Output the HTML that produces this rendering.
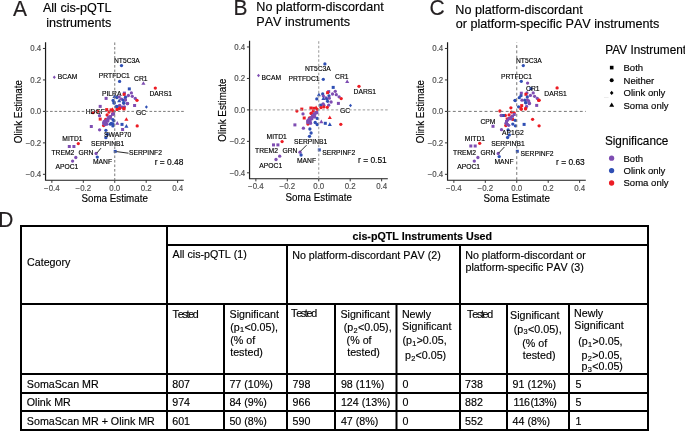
<!DOCTYPE html><html><head><meta charset="utf-8"><style>html,body{margin:0;padding:0;background:#fff;}svg{display:block;will-change:transform;font-kerning:none;font-family:"Liberation Sans",sans-serif;} text{stroke:currentColor;stroke-width:0.15px;}</style></head><body>
<svg width="685" height="431" viewBox="0 0 685 431">
<rect width="685" height="431" fill="#fff"/>
<text transform="translate(12.90,15.60) scale(1,1.04)" font-size="21" fill="#231f20" color="#231f20" text-anchor="start" >A</text>
<text transform="translate(233.40,14.90) scale(1,1.04)" font-size="21" fill="#231f20" color="#231f20" text-anchor="start" >B</text>
<text transform="translate(429.50,15.30) scale(1,1.04)" font-size="21" fill="#231f20" color="#231f20" text-anchor="start" >C</text>
<text transform="translate(-1.80,226.70) scale(1,1.04)" font-size="21" fill="#231f20" color="#231f20" text-anchor="start" >D</text>
<text transform="translate(42.90,12.20) scale(1,1.04)" font-size="12.6" fill="#000" color="#000" text-anchor="start" >All cis-pQTL</text>
<text transform="translate(46.30,27.10) scale(1,1.04)" font-size="12.6" fill="#000" color="#000" text-anchor="start" >instruments</text>
<text transform="translate(256.30,11.20) scale(1,1.04)" font-size="12.6" fill="#000" color="#000" text-anchor="start" >No platform-discordant</text>
<text transform="translate(256.30,26.20) scale(1,1.04)" font-size="12.6" fill="#000" color="#000" text-anchor="start" >PAV instruments</text>
<text transform="translate(455.30,13.60) scale(1,1.04)" font-size="12.6" fill="#000" color="#000" text-anchor="start" >No platform-discordant</text>
<text transform="translate(455.70,28.30) scale(1,1.04)" font-size="12.6" fill="#000" color="#000" text-anchor="start" >or platform-specific PAV instruments</text>
<polygon points="54.30,75.55 55.79,77.30 54.30,79.05 52.81,77.30" fill="#7E4DB2"/>
<circle cx="121.50" cy="65.60" r="1.65" fill="#2F4FB4"/>
<circle cx="119.60" cy="81.40" r="1.65" fill="#2F4FB4"/>
<polygon points="143.40,81.14 145.45,84.74 141.35,84.74" fill="#7E4DB2"/>
<circle cx="155.30" cy="88.10" r="1.65" fill="#EC1C24"/>
<circle cx="78.30" cy="143.60" r="1.65" fill="#EC1C24"/>
<rect x="67.80" y="145.00" width="3.00" height="3.00" fill="#7E4DB2"/>
<rect x="72.40" y="145.00" width="3.00" height="3.00" fill="#7E4DB2"/>
<circle cx="75.80" cy="157.50" r="1.65" fill="#7E4DB2"/>
<circle cx="72.60" cy="161.10" r="1.65" fill="#7E4DB2"/>
<circle cx="96.10" cy="153.50" r="1.65" fill="#7E4DB2"/>
<circle cx="97.30" cy="157.10" r="1.65" fill="#2F4FB4"/>
<rect x="113.70" y="149.90" width="3.00" height="3.00" fill="#2F4FB4"/>
<circle cx="105.90" cy="137.70" r="1.65" fill="#2F4FB4"/>
<circle cx="107.30" cy="134.30" r="1.65" fill="#2F4FB4"/>
<rect x="127.80" y="87.40" width="3.00" height="3.00" fill="#2F4FB4"/>
<rect x="122.90" y="91.60" width="3.00" height="3.00" fill="#7E4DB2"/>
<rect x="122.60" y="92.90" width="3.00" height="3.00" fill="#EC1C24"/>
<circle cx="131.40" cy="92.90" r="1.65" fill="#7E4DB2"/>
<circle cx="128.40" cy="95.50" r="1.65" fill="#7E4DB2"/>
<circle cx="132.30" cy="96.30" r="1.65" fill="#7E4DB2"/>
<circle cx="135.30" cy="98.40" r="1.65" fill="#7E4DB2"/>
<circle cx="137.00" cy="100.30" r="1.65" fill="#EC1C24"/>
<circle cx="125.30" cy="99.50" r="1.65" fill="#7E4DB2"/>
<circle cx="127.40" cy="103.70" r="1.65" fill="#7E4DB2"/>
<rect x="133.10" y="104.00" width="3.00" height="3.00" fill="#7E4DB2"/>
<polygon points="146.40,105.35 147.89,107.10 146.40,108.85 144.91,107.10" fill="#2F4FB4"/>
<rect x="104.60" y="96.90" width="3.00" height="3.00" fill="#7E4DB2"/>
<polygon points="114.50,94.44 116.55,98.04 112.45,98.04" fill="#2F4FB4"/>
<circle cx="116.80" cy="97.50" r="1.65" fill="#2F4FB4"/>
<circle cx="119.20" cy="96.90" r="1.65" fill="#7E4DB2"/>
<circle cx="125.50" cy="97.20" r="1.65" fill="#2F4FB4"/>
<circle cx="113.10" cy="100.40" r="1.65" fill="#2F4FB4"/>
<circle cx="114.20" cy="103.00" r="1.65" fill="#2F4FB4"/>
<polygon points="119.20,98.54 121.25,102.14 117.15,102.14" fill="#2F4FB4"/>
<circle cx="121.50" cy="99.20" r="1.65" fill="#7E4DB2"/>
<circle cx="123.20" cy="100.10" r="1.65" fill="#2F4FB4"/>
<circle cx="125.50" cy="100.10" r="1.65" fill="#7E4DB2"/>
<circle cx="123.80" cy="103.00" r="1.65" fill="#2F4FB4"/>
<circle cx="127.30" cy="103.60" r="1.65" fill="#7E4DB2"/>
<rect x="98.70" y="104.90" width="3.00" height="3.00" fill="#7E4DB2"/>
<rect x="112.50" y="101.20" width="3.00" height="3.00" fill="#2F4FB4"/>
<circle cx="123.70" cy="103.00" r="1.65" fill="#2F4FB4"/>
<circle cx="127.60" cy="103.40" r="1.65" fill="#7E4DB2"/>
<circle cx="116.50" cy="106.60" r="1.65" fill="#2F4FB4"/>
<circle cx="119.40" cy="106.00" r="1.65" fill="#7E4DB2"/>
<circle cx="116.80" cy="106.50" r="1.65" fill="#2F4FB4"/>
<circle cx="119.70" cy="105.30" r="1.65" fill="#7E4DB2"/>
<circle cx="124.40" cy="106.80" r="1.65" fill="#7E4DB2"/>
<circle cx="122.30" cy="107.20" r="1.65" fill="#7E4DB2"/>
<circle cx="119.70" cy="108.20" r="1.65" fill="#EC1C24"/>
<circle cx="123.80" cy="108.50" r="1.65" fill="#EC1C24"/>
<rect x="115.50" y="108.00" width="3.00" height="3.00" fill="#EC1C24"/>
<circle cx="119.40" cy="108.60" r="1.65" fill="#EC1C24"/>
<rect x="122.50" y="107.40" width="3.00" height="3.00" fill="#EC1C24"/>
<circle cx="97.60" cy="111.30" r="1.65" fill="#EC1C24"/>
<circle cx="93.00" cy="112.70" r="1.65" fill="#EC1C24"/>
<circle cx="99.50" cy="115.70" r="1.65" fill="#7E4DB2"/>
<rect x="98.70" y="117.60" width="3.00" height="3.00" fill="#EC1C24"/>
<rect x="105.20" y="108.10" width="3.00" height="3.00" fill="#EC1C24"/>
<circle cx="109.00" cy="112.00" r="1.65" fill="#EC1C24"/>
<rect x="109.60" y="108.40" width="3.00" height="3.00" fill="#EC1C24"/>
<polygon points="112.50,107.14 114.55,110.74 110.45,110.74" fill="#EC1C24"/>
<rect x="111.40" y="109.70" width="3.00" height="3.00" fill="#EC1C24"/>
<circle cx="107.10" cy="115.00" r="1.65" fill="#EC1C24"/>
<circle cx="105.70" cy="119.40" r="1.65" fill="#EC1C24"/>
<circle cx="103.60" cy="125.60" r="1.65" fill="#EC1C24"/>
<rect x="112.10" y="112.30" width="3.00" height="3.00" fill="#7E4DB2"/>
<rect x="111.00" y="112.80" width="3.00" height="3.00" fill="#7E4DB2"/>
<rect x="109.10" y="114.90" width="3.00" height="3.00" fill="#7E4DB2"/>
<rect x="107.20" y="115.80" width="3.00" height="3.00" fill="#7E4DB2"/>
<circle cx="110.10" cy="118.20" r="1.65" fill="#7E4DB2"/>
<rect x="106.30" y="117.60" width="3.00" height="3.00" fill="#7E4DB2"/>
<circle cx="106.00" cy="120.30" r="1.65" fill="#7E4DB2"/>
<circle cx="104.10" cy="121.50" r="1.65" fill="#7E4DB2"/>
<rect x="102.10" y="121.80" width="3.00" height="3.00" fill="#7E4DB2"/>
<rect x="104.50" y="120.90" width="3.00" height="3.00" fill="#7E4DB2"/>
<circle cx="106.90" cy="124.20" r="1.65" fill="#7E4DB2"/>
<circle cx="105.00" cy="124.70" r="1.65" fill="#7E4DB2"/>
<circle cx="107.90" cy="121.00" r="1.65" fill="#7E4DB2"/>
<circle cx="105.00" cy="122.00" r="1.65" fill="#7E4DB2"/>
<circle cx="112.90" cy="119.60" r="1.65" fill="#2F4FB4"/>
<circle cx="113.80" cy="120.80" r="1.65" fill="#2F4FB4"/>
<circle cx="111.30" cy="123.30" r="1.65" fill="#2F4FB4"/>
<circle cx="112.90" cy="124.00" r="1.65" fill="#2F4FB4"/>
<circle cx="112.90" cy="125.90" r="1.65" fill="#2F4FB4"/>
<circle cx="110.40" cy="124.20" r="1.65" fill="#2F4FB4"/>
<polygon points="117.30,121.04 119.35,124.64 115.25,124.64" fill="#7E4DB2"/>
<rect x="120.50" y="122.90" width="3.00" height="3.00" fill="#2F4FB4"/>
<polygon points="126.40,117.14 128.45,120.74 124.35,120.74" fill="#EC1C24"/>
<polygon points="126.40,124.04 128.45,127.64 124.35,127.64" fill="#2F4FB4"/>
<circle cx="137.20" cy="125.90" r="1.65" fill="#EC1C24"/>
<rect x="121.10" y="128.00" width="3.00" height="3.00" fill="#7E4DB2"/>
<rect x="89.80" y="125.00" width="3.00" height="3.00" fill="#7E4DB2"/>
<circle cx="99.60" cy="129.80" r="1.65" fill="#7E4DB2"/>
<circle cx="105.90" cy="130.30" r="1.65" fill="#2F4FB4"/>
<polygon points="258.50,73.85 259.99,75.60 258.50,77.35 257.01,75.60" fill="#7E4DB2"/>
<circle cx="324.90" cy="63.90" r="1.65" fill="#2F4FB4"/>
<circle cx="323.30" cy="79.30" r="1.65" fill="#2F4FB4"/>
<polygon points="347.20,79.44 349.25,83.04 345.15,83.04" fill="#7E4DB2"/>
<circle cx="359.00" cy="86.30" r="1.65" fill="#EC1C24"/>
<circle cx="282.10" cy="141.60" r="1.65" fill="#EC1C24"/>
<rect x="272.00" y="143.40" width="3.00" height="3.00" fill="#7E4DB2"/>
<rect x="276.40" y="143.40" width="3.00" height="3.00" fill="#7E4DB2"/>
<circle cx="279.70" cy="156.20" r="1.65" fill="#7E4DB2"/>
<circle cx="276.00" cy="159.50" r="1.65" fill="#7E4DB2"/>
<circle cx="300.00" cy="152.20" r="1.65" fill="#7E4DB2"/>
<circle cx="301.10" cy="155.00" r="1.65" fill="#2F4FB4"/>
<rect x="317.80" y="148.40" width="3.00" height="3.00" fill="#2F4FB4"/>
<rect x="331.70" y="85.90" width="3.00" height="3.00" fill="#2F4FB4"/>
<circle cx="335.30" cy="91.30" r="1.65" fill="#7E4DB2"/>
<circle cx="332.50" cy="94.00" r="1.65" fill="#7E4DB2"/>
<circle cx="336.30" cy="94.70" r="1.65" fill="#7E4DB2"/>
<circle cx="339.10" cy="96.80" r="1.65" fill="#7E4DB2"/>
<circle cx="341.20" cy="98.60" r="1.65" fill="#EC1C24"/>
<rect x="336.90" y="101.90" width="3.00" height="3.00" fill="#7E4DB2"/>
<rect x="327.20" y="90.10" width="3.00" height="3.00" fill="#7E4DB2"/>
<rect x="326.10" y="91.20" width="3.00" height="3.00" fill="#EC1C24"/>
<polygon points="318.90,92.54 320.95,96.14 316.85,96.14" fill="#2F4FB4"/>
<circle cx="322.70" cy="94.00" r="1.65" fill="#2F4FB4"/>
<circle cx="323.40" cy="96.10" r="1.65" fill="#7E4DB2"/>
<circle cx="329.00" cy="95.80" r="1.65" fill="#2F4FB4"/>
<circle cx="316.80" cy="98.90" r="1.65" fill="#2F4FB4"/>
<polygon points="323.40,96.44 325.45,100.04 321.35,100.04" fill="#2F4FB4"/>
<circle cx="325.90" cy="97.90" r="1.65" fill="#7E4DB2"/>
<circle cx="326.90" cy="98.90" r="1.65" fill="#2F4FB4"/>
<circle cx="329.30" cy="98.20" r="1.65" fill="#7E4DB2"/>
<circle cx="327.60" cy="101.30" r="1.65" fill="#2F4FB4"/>
<circle cx="331.10" cy="102.00" r="1.65" fill="#7E4DB2"/>
<circle cx="328.70" cy="105.20" r="1.65" fill="#7E4DB2"/>
<rect x="319.20" y="103.70" width="3.00" height="3.00" fill="#2F4FB4"/>
<circle cx="323.10" cy="103.80" r="1.65" fill="#7E4DB2"/>
<circle cx="323.80" cy="105.20" r="1.65" fill="#7E4DB2"/>
<circle cx="321.00" cy="107.60" r="1.65" fill="#EC1C24"/>
<circle cx="323.80" cy="106.90" r="1.65" fill="#EC1C24"/>
<circle cx="327.30" cy="107.30" r="1.65" fill="#EC1C24"/>
<rect x="309.40" y="106.50" width="3.00" height="3.00" fill="#EC1C24"/>
<rect x="312.20" y="106.80" width="3.00" height="3.00" fill="#EC1C24"/>
<polygon points="316.10,105.44 318.15,109.04 314.05,109.04" fill="#EC1C24"/>
<circle cx="317.20" cy="109.30" r="1.65" fill="#EC1C24"/>
<circle cx="313.30" cy="111.10" r="1.65" fill="#EC1C24"/>
<circle cx="311.30" cy="113.10" r="1.65" fill="#EC1C24"/>
<circle cx="316.10" cy="112.80" r="1.65" fill="#7E4DB2"/>
<circle cx="296.90" cy="111.10" r="1.65" fill="#EC1C24"/>
<rect x="300.30" y="107.60" width="3.00" height="3.00" fill="#EC1C24"/>
<circle cx="303.00" cy="113.90" r="1.65" fill="#7E4DB2"/>
<rect x="302.70" y="116.50" width="3.00" height="3.00" fill="#EC1C24"/>
<circle cx="307.90" cy="124.10" r="1.65" fill="#EC1C24"/>
<circle cx="309.50" cy="118.00" r="1.65" fill="#EC1C24"/>
<circle cx="311.10" cy="113.50" r="1.65" fill="#EC1C24"/>
<rect x="312.90" y="112.40" width="3.00" height="3.00" fill="#7E4DB2"/>
<rect x="315.30" y="111.20" width="3.00" height="3.00" fill="#7E4DB2"/>
<rect x="312.10" y="115.30" width="3.00" height="3.00" fill="#7E4DB2"/>
<circle cx="310.30" cy="119.20" r="1.65" fill="#7E4DB2"/>
<circle cx="308.30" cy="121.20" r="1.65" fill="#7E4DB2"/>
<rect x="308.80" y="121.40" width="3.00" height="3.00" fill="#7E4DB2"/>
<circle cx="311.90" cy="118.80" r="1.65" fill="#7E4DB2"/>
<circle cx="316.40" cy="112.30" r="1.65" fill="#7E4DB2"/>
<rect x="313.20" y="112.80" width="3.00" height="3.00" fill="#7E4DB2"/>
<circle cx="312.50" cy="115.70" r="1.65" fill="#7E4DB2"/>
<circle cx="314.70" cy="116.80" r="1.65" fill="#7E4DB2"/>
<rect x="309.90" y="116.10" width="3.00" height="3.00" fill="#7E4DB2"/>
<circle cx="309.10" cy="119.00" r="1.65" fill="#7E4DB2"/>
<circle cx="307.70" cy="120.70" r="1.65" fill="#7E4DB2"/>
<rect x="308.50" y="119.80" width="3.00" height="3.00" fill="#7E4DB2"/>
<circle cx="307.70" cy="122.60" r="1.65" fill="#7E4DB2"/>
<circle cx="310.50" cy="123.20" r="1.65" fill="#7E4DB2"/>
<circle cx="317.20" cy="118.40" r="1.65" fill="#2F4FB4"/>
<circle cx="315.20" cy="122.50" r="1.65" fill="#2F4FB4"/>
<circle cx="317.20" cy="124.50" r="1.65" fill="#2F4FB4"/>
<polygon points="321.30,119.54 323.35,123.14 319.25,123.14" fill="#7E4DB2"/>
<rect x="323.80" y="121.80" width="3.00" height="3.00" fill="#2F4FB4"/>
<polygon points="329.80,122.34 331.85,125.94 327.75,125.94" fill="#2F4FB4"/>
<polygon points="329.80,115.44 331.85,119.04 327.75,119.04" fill="#EC1C24"/>
<circle cx="340.80" cy="124.30" r="1.65" fill="#EC1C24"/>
<rect x="293.40" y="123.40" width="3.00" height="3.00" fill="#7E4DB2"/>
<circle cx="303.40" cy="128.20" r="1.65" fill="#7E4DB2"/>
<circle cx="309.90" cy="129.00" r="1.65" fill="#2F4FB4"/>
<circle cx="311.10" cy="133.00" r="1.65" fill="#2F4FB4"/>
<circle cx="309.50" cy="136.30" r="1.65" fill="#2F4FB4"/>
<polygon points="350.50,103.85 351.99,105.60 350.50,107.35 349.01,105.60" fill="#2F4FB4"/>
<circle cx="523.30" cy="65.60" r="1.65" fill="#2F4FB4"/>
<circle cx="521.30" cy="81.30" r="1.65" fill="#2F4FB4"/>
<circle cx="527.60" cy="83.10" r="1.65" fill="#7E4DB2"/>
<rect x="529.40" y="87.20" width="3.00" height="3.00" fill="#2F4FB4"/>
<circle cx="557.10" cy="87.90" r="1.65" fill="#EC1C24"/>
<circle cx="479.70" cy="143.30" r="1.65" fill="#EC1C24"/>
<rect x="469.30" y="144.50" width="3.00" height="3.00" fill="#7E4DB2"/>
<rect x="473.70" y="144.50" width="3.00" height="3.00" fill="#7E4DB2"/>
<circle cx="477.90" cy="157.50" r="1.65" fill="#7E4DB2"/>
<circle cx="474.30" cy="161.10" r="1.65" fill="#7E4DB2"/>
<circle cx="498.20" cy="153.50" r="1.65" fill="#7E4DB2"/>
<circle cx="499.20" cy="156.60" r="1.65" fill="#2F4FB4"/>
<rect x="515.80" y="149.80" width="3.00" height="3.00" fill="#2F4FB4"/>
<rect x="519.80" y="91.70" width="3.00" height="3.00" fill="#7E4DB2"/>
<circle cx="526.90" cy="92.90" r="1.65" fill="#7E4DB2"/>
<rect x="524.40" y="92.80" width="3.00" height="3.00" fill="#EC1C24"/>
<circle cx="533.20" cy="92.90" r="1.65" fill="#7E4DB2"/>
<circle cx="530.40" cy="95.40" r="1.65" fill="#7E4DB2"/>
<circle cx="534.60" cy="96.30" r="1.65" fill="#7E4DB2"/>
<circle cx="537.30" cy="98.40" r="1.65" fill="#7E4DB2"/>
<circle cx="539.10" cy="100.20" r="1.65" fill="#EC1C24"/>
<circle cx="521.00" cy="95.70" r="1.65" fill="#2F4FB4"/>
<circle cx="519.30" cy="97.70" r="1.65" fill="#2F4FB4"/>
<circle cx="515.10" cy="100.30" r="1.65" fill="#2F4FB4"/>
<circle cx="527.30" cy="97.00" r="1.65" fill="#2F4FB4"/>
<circle cx="524.80" cy="100.20" r="1.65" fill="#2F4FB4"/>
<circle cx="525.90" cy="102.60" r="1.65" fill="#2F4FB4"/>
<circle cx="522.00" cy="100.20" r="1.65" fill="#7E4DB2"/>
<circle cx="527.30" cy="99.80" r="1.65" fill="#7E4DB2"/>
<circle cx="528.70" cy="100.90" r="1.65" fill="#7E4DB2"/>
<circle cx="529.30" cy="103.70" r="1.65" fill="#7E4DB2"/>
<rect x="535.20" y="103.90" width="3.00" height="3.00" fill="#7E4DB2"/>
<circle cx="510.90" cy="107.80" r="1.65" fill="#EC1C24"/>
<rect x="520.20" y="104.10" width="3.00" height="3.00" fill="#EC1C24"/>
<circle cx="518.60" cy="106.80" r="1.65" fill="#2F4FB4"/>
<circle cx="526.60" cy="106.40" r="1.65" fill="#7E4DB2"/>
<circle cx="521.00" cy="108.50" r="1.65" fill="#EC1C24"/>
<circle cx="525.50" cy="108.90" r="1.65" fill="#EC1C24"/>
<circle cx="525.70" cy="102.80" r="1.65" fill="#2F4FB4"/>
<circle cx="529.40" cy="103.20" r="1.65" fill="#7E4DB2"/>
<circle cx="521.30" cy="109.30" r="1.65" fill="#EC1C24"/>
<circle cx="525.70" cy="108.50" r="1.65" fill="#EC1C24"/>
<circle cx="538.70" cy="100.40" r="1.65" fill="#EC1C24"/>
<circle cx="515.20" cy="100.60" r="1.65" fill="#2F4FB4"/>
<circle cx="499.90" cy="111.00" r="1.65" fill="#EC1C24"/>
<circle cx="511.40" cy="112.10" r="1.65" fill="#EC1C24"/>
<circle cx="514.20" cy="113.00" r="1.65" fill="#EC1C24"/>
<circle cx="505.30" cy="115.50" r="1.65" fill="#EC1C24"/>
<rect x="501.80" y="114.00" width="3.00" height="3.00" fill="#2F4FB4"/>
<circle cx="501.10" cy="115.50" r="1.65" fill="#7E4DB2"/>
<circle cx="509.10" cy="114.90" r="1.65" fill="#EC1C24"/>
<circle cx="507.20" cy="118.80" r="1.65" fill="#EC1C24"/>
<circle cx="512.80" cy="119.40" r="1.65" fill="#EC1C24"/>
<circle cx="505.80" cy="125.50" r="1.65" fill="#EC1C24"/>
<rect x="512.70" y="113.00" width="3.00" height="3.00" fill="#7E4DB2"/>
<rect x="511.00" y="114.70" width="3.00" height="3.00" fill="#7E4DB2"/>
<circle cx="510.80" cy="117.50" r="1.65" fill="#7E4DB2"/>
<rect x="507.80" y="117.00" width="3.00" height="3.00" fill="#7E4DB2"/>
<circle cx="507.80" cy="120.00" r="1.65" fill="#7E4DB2"/>
<rect x="505.00" y="120.00" width="3.00" height="3.00" fill="#7E4DB2"/>
<circle cx="506.00" cy="123.20" r="1.65" fill="#7E4DB2"/>
<rect x="505.80" y="123.00" width="3.00" height="3.00" fill="#7E4DB2"/>
<circle cx="508.70" cy="125.30" r="1.65" fill="#7E4DB2"/>
<circle cx="511.00" cy="118.80" r="1.65" fill="#7E4DB2"/>
<circle cx="515.20" cy="120.30" r="1.65" fill="#2F4FB4"/>
<circle cx="512.80" cy="124.10" r="1.65" fill="#2F4FB4"/>
<circle cx="515.40" cy="125.80" r="1.65" fill="#2F4FB4"/>
<rect x="522.60" y="122.90" width="3.00" height="3.00" fill="#2F4FB4"/>
<circle cx="532.60" cy="119.30" r="1.65" fill="#EC1C24"/>
<circle cx="539.10" cy="125.80" r="1.65" fill="#EC1C24"/>
<rect x="491.50" y="124.80" width="3.00" height="3.00" fill="#7E4DB2"/>
<circle cx="501.50" cy="129.70" r="1.65" fill="#7E4DB2"/>
<circle cx="508.10" cy="129.90" r="1.65" fill="#2F4FB4"/>
<circle cx="509.30" cy="134.90" r="1.65" fill="#2F4FB4"/>
<circle cx="507.60" cy="137.50" r="1.65" fill="#2F4FB4"/>
<path d="M45.55,42.30 V180.25 H183.80" fill="none" stroke="#1a1a1a" stroke-width="1.2"/>
<line x1="42.95" y1="48.48" x2="45.55" y2="48.48" stroke="#333" stroke-width="1"/>
<text transform="translate(41.25,51.33) scale(1,1.04)" font-size="7.9" fill="#4d4d4d" color="#4d4d4d" text-anchor="end" >0.4</text>
<line x1="42.95" y1="79.94" x2="45.55" y2="79.94" stroke="#333" stroke-width="1"/>
<text transform="translate(41.25,82.79) scale(1,1.04)" font-size="7.9" fill="#4d4d4d" color="#4d4d4d" text-anchor="end" >0.2</text>
<line x1="42.95" y1="111.40" x2="45.55" y2="111.40" stroke="#333" stroke-width="1"/>
<text transform="translate(41.25,114.25) scale(1,1.04)" font-size="7.9" fill="#4d4d4d" color="#4d4d4d" text-anchor="end" >0.0</text>
<line x1="42.95" y1="142.86" x2="45.55" y2="142.86" stroke="#333" stroke-width="1"/>
<text transform="translate(41.25,145.71) scale(1,1.04)" font-size="7.9" fill="#4d4d4d" color="#4d4d4d" text-anchor="end" >−0.2</text>
<line x1="42.95" y1="174.32" x2="45.55" y2="174.32" stroke="#333" stroke-width="1"/>
<text transform="translate(41.25,177.17) scale(1,1.04)" font-size="7.9" fill="#4d4d4d" color="#4d4d4d" text-anchor="end" >−0.4</text>
<line x1="51.87" y1="180.25" x2="51.87" y2="182.85" stroke="#333" stroke-width="1"/>
<text transform="translate(51.87,190.70) scale(1,1.04)" font-size="7.9" fill="#4d4d4d" color="#4d4d4d" text-anchor="middle" >−0.4</text>
<line x1="83.31" y1="180.25" x2="83.31" y2="182.85" stroke="#333" stroke-width="1"/>
<text transform="translate(83.31,190.70) scale(1,1.04)" font-size="7.9" fill="#4d4d4d" color="#4d4d4d" text-anchor="middle" >−0.2</text>
<line x1="114.75" y1="180.25" x2="114.75" y2="182.85" stroke="#333" stroke-width="1"/>
<text transform="translate(114.75,190.70) scale(1,1.04)" font-size="7.9" fill="#4d4d4d" color="#4d4d4d" text-anchor="middle" >0.0</text>
<line x1="146.19" y1="180.25" x2="146.19" y2="182.85" stroke="#333" stroke-width="1"/>
<text transform="translate(146.19,190.70) scale(1,1.04)" font-size="7.9" fill="#4d4d4d" color="#4d4d4d" text-anchor="middle" >0.2</text>
<line x1="177.63" y1="180.25" x2="177.63" y2="182.85" stroke="#333" stroke-width="1"/>
<text transform="translate(177.63,190.70) scale(1,1.04)" font-size="7.9" fill="#4d4d4d" color="#4d4d4d" text-anchor="middle" >0.4</text>
<text transform="translate(114.65,202.00) scale(1,1.04)" font-size="9.8" fill="#000" color="#000" text-anchor="middle" >Soma Estimate</text>
<text transform="translate(21.50,111.60) rotate(-90) scale(1,1.04)" font-size="9.8" text-anchor="middle" fill="#000">Olink Estimate</text>
<path d="M249.55,40.80 V178.75 H387.80" fill="none" stroke="#1a1a1a" stroke-width="1.2"/>
<line x1="246.95" y1="46.98" x2="249.55" y2="46.98" stroke="#333" stroke-width="1"/>
<text transform="translate(245.25,49.83) scale(1,1.04)" font-size="7.9" fill="#4d4d4d" color="#4d4d4d" text-anchor="end" >0.4</text>
<line x1="246.95" y1="78.44" x2="249.55" y2="78.44" stroke="#333" stroke-width="1"/>
<text transform="translate(245.25,81.29) scale(1,1.04)" font-size="7.9" fill="#4d4d4d" color="#4d4d4d" text-anchor="end" >0.2</text>
<line x1="246.95" y1="109.90" x2="249.55" y2="109.90" stroke="#333" stroke-width="1"/>
<text transform="translate(245.25,112.75) scale(1,1.04)" font-size="7.9" fill="#4d4d4d" color="#4d4d4d" text-anchor="end" >0.0</text>
<line x1="246.95" y1="141.36" x2="249.55" y2="141.36" stroke="#333" stroke-width="1"/>
<text transform="translate(245.25,144.21) scale(1,1.04)" font-size="7.9" fill="#4d4d4d" color="#4d4d4d" text-anchor="end" >−0.2</text>
<line x1="246.95" y1="172.82" x2="249.55" y2="172.82" stroke="#333" stroke-width="1"/>
<text transform="translate(245.25,175.67) scale(1,1.04)" font-size="7.9" fill="#4d4d4d" color="#4d4d4d" text-anchor="end" >−0.4</text>
<line x1="255.87" y1="178.75" x2="255.87" y2="181.35" stroke="#333" stroke-width="1"/>
<text transform="translate(255.87,189.20) scale(1,1.04)" font-size="7.9" fill="#4d4d4d" color="#4d4d4d" text-anchor="middle" >−0.4</text>
<line x1="287.31" y1="178.75" x2="287.31" y2="181.35" stroke="#333" stroke-width="1"/>
<text transform="translate(287.31,189.20) scale(1,1.04)" font-size="7.9" fill="#4d4d4d" color="#4d4d4d" text-anchor="middle" >−0.2</text>
<line x1="318.75" y1="178.75" x2="318.75" y2="181.35" stroke="#333" stroke-width="1"/>
<text transform="translate(318.75,189.20) scale(1,1.04)" font-size="7.9" fill="#4d4d4d" color="#4d4d4d" text-anchor="middle" >0.0</text>
<line x1="350.19" y1="178.75" x2="350.19" y2="181.35" stroke="#333" stroke-width="1"/>
<text transform="translate(350.19,189.20) scale(1,1.04)" font-size="7.9" fill="#4d4d4d" color="#4d4d4d" text-anchor="middle" >0.2</text>
<line x1="381.63" y1="178.75" x2="381.63" y2="181.35" stroke="#333" stroke-width="1"/>
<text transform="translate(381.63,189.20) scale(1,1.04)" font-size="7.9" fill="#4d4d4d" color="#4d4d4d" text-anchor="middle" >0.4</text>
<text transform="translate(318.65,200.50) scale(1,1.04)" font-size="9.8" fill="#000" color="#000" text-anchor="middle" >Soma Estimate</text>
<text transform="translate(225.50,110.10) rotate(-90) scale(1,1.04)" font-size="9.8" text-anchor="middle" fill="#000">Olink Estimate</text>
<path d="M447.55,42.30 V180.25 H585.80" fill="none" stroke="#1a1a1a" stroke-width="1.2"/>
<line x1="444.95" y1="48.48" x2="447.55" y2="48.48" stroke="#333" stroke-width="1"/>
<text transform="translate(443.25,51.33) scale(1,1.04)" font-size="7.9" fill="#4d4d4d" color="#4d4d4d" text-anchor="end" >0.4</text>
<line x1="444.95" y1="79.94" x2="447.55" y2="79.94" stroke="#333" stroke-width="1"/>
<text transform="translate(443.25,82.79) scale(1,1.04)" font-size="7.9" fill="#4d4d4d" color="#4d4d4d" text-anchor="end" >0.2</text>
<line x1="444.95" y1="111.40" x2="447.55" y2="111.40" stroke="#333" stroke-width="1"/>
<text transform="translate(443.25,114.25) scale(1,1.04)" font-size="7.9" fill="#4d4d4d" color="#4d4d4d" text-anchor="end" >0.0</text>
<line x1="444.95" y1="142.86" x2="447.55" y2="142.86" stroke="#333" stroke-width="1"/>
<text transform="translate(443.25,145.71) scale(1,1.04)" font-size="7.9" fill="#4d4d4d" color="#4d4d4d" text-anchor="end" >−0.2</text>
<line x1="444.95" y1="174.32" x2="447.55" y2="174.32" stroke="#333" stroke-width="1"/>
<text transform="translate(443.25,177.17) scale(1,1.04)" font-size="7.9" fill="#4d4d4d" color="#4d4d4d" text-anchor="end" >−0.4</text>
<line x1="453.87" y1="180.25" x2="453.87" y2="182.85" stroke="#333" stroke-width="1"/>
<text transform="translate(453.87,190.70) scale(1,1.04)" font-size="7.9" fill="#4d4d4d" color="#4d4d4d" text-anchor="middle" >−0.4</text>
<line x1="485.31" y1="180.25" x2="485.31" y2="182.85" stroke="#333" stroke-width="1"/>
<text transform="translate(485.31,190.70) scale(1,1.04)" font-size="7.9" fill="#4d4d4d" color="#4d4d4d" text-anchor="middle" >−0.2</text>
<line x1="516.75" y1="180.25" x2="516.75" y2="182.85" stroke="#333" stroke-width="1"/>
<text transform="translate(516.75,190.70) scale(1,1.04)" font-size="7.9" fill="#4d4d4d" color="#4d4d4d" text-anchor="middle" >0.0</text>
<line x1="548.19" y1="180.25" x2="548.19" y2="182.85" stroke="#333" stroke-width="1"/>
<text transform="translate(548.19,190.70) scale(1,1.04)" font-size="7.9" fill="#4d4d4d" color="#4d4d4d" text-anchor="middle" >0.2</text>
<line x1="579.63" y1="180.25" x2="579.63" y2="182.85" stroke="#333" stroke-width="1"/>
<text transform="translate(579.63,190.70) scale(1,1.04)" font-size="7.9" fill="#4d4d4d" color="#4d4d4d" text-anchor="middle" >0.4</text>
<text transform="translate(516.65,202.00) scale(1,1.04)" font-size="9.8" fill="#000" color="#000" text-anchor="middle" >Soma Estimate</text>
<text transform="translate(423.50,111.60) rotate(-90) scale(1,1.04)" font-size="9.8" text-anchor="middle" fill="#000">Olink Estimate</text>
<text transform="translate(114.00,62.90) scale(1,1.04)" font-size="6.75" fill="#000" color="#000" text-anchor="start" stroke="#000" stroke-width="0.2">NT5C3A</text>
<text transform="translate(98.70,78.10) scale(1,1.04)" font-size="6.75" fill="#000" color="#000" text-anchor="start" stroke="#000" stroke-width="0.2">PRTFDC1</text>
<text transform="translate(134.10,80.60) scale(1,1.04)" font-size="6.75" fill="#000" color="#000" text-anchor="start" stroke="#000" stroke-width="0.2">CR1</text>
<text transform="translate(149.50,95.70) scale(1,1.04)" font-size="6.75" fill="#000" color="#000" text-anchor="start" stroke="#000" stroke-width="0.2">DARS1</text>
<text transform="translate(101.90,95.70) scale(1,1.04)" font-size="6.75" fill="#000" color="#000" text-anchor="start" stroke="#000" stroke-width="0.2">PILRA</text>
<text transform="translate(85.70,114.10) scale(1,1.04)" font-size="6.75" fill="#000" color="#000" text-anchor="start" stroke="#000" stroke-width="0.2">HDGF</text>
<text transform="translate(135.90,114.70) scale(1,1.04)" font-size="6.75" fill="#000" color="#000" text-anchor="start" stroke="#000" stroke-width="0.2">GC</text>
<text transform="translate(104.00,137.20) scale(1,1.04)" font-size="6.75" fill="#000" color="#000" text-anchor="start" stroke="#000" stroke-width="0.2">SWAP70</text>
<text transform="translate(62.30,140.80) scale(1,1.04)" font-size="6.75" fill="#000" color="#000" text-anchor="start" stroke="#000" stroke-width="0.2">MITD1</text>
<text transform="translate(91.00,146.40) scale(1,1.04)" font-size="6.75" fill="#000" color="#000" text-anchor="start" stroke="#000" stroke-width="0.2">SERPINB1</text>
<text transform="translate(51.40,154.60) scale(1,1.04)" font-size="6.75" fill="#000" color="#000" text-anchor="start" stroke="#000" stroke-width="0.2">TREM2</text>
<text transform="translate(78.40,154.60) scale(1,1.04)" font-size="6.75" fill="#000" color="#000" text-anchor="start" stroke="#000" stroke-width="0.2">GRN</text>
<text transform="translate(129.00,155.40) scale(1,1.04)" font-size="6.75" fill="#000" color="#000" text-anchor="start" stroke="#000" stroke-width="0.2">SERPINF2</text>
<text transform="translate(93.00,163.90) scale(1,1.04)" font-size="6.75" fill="#000" color="#000" text-anchor="start" stroke="#000" stroke-width="0.2">MANF</text>
<text transform="translate(55.40,168.70) scale(1,1.04)" font-size="6.75" fill="#000" color="#000" text-anchor="start" stroke="#000" stroke-width="0.2">APOC1</text>
<text transform="translate(57.80,78.90) scale(1,1.04)" font-size="6.75" fill="#000" color="#000" text-anchor="start" stroke="#000" stroke-width="0.2">BCAM</text>
<line x1="101" y1="148.1" x2="96.9" y2="153" stroke="#111" stroke-width="0.9"/>
<line x1="116.5" y1="151.6" x2="128.5" y2="153.2" stroke="#111" stroke-width="0.9"/>
<text transform="translate(154.70,164.60) scale(1,1.04)" font-size="8.4" fill="#000" color="#000" text-anchor="start" >r = 0.48</text>
<text transform="translate(305.00,71.40) scale(1,1.04)" font-size="6.75" fill="#000" color="#000" text-anchor="start" stroke="#000" stroke-width="0.2">NT5C3A</text>
<text transform="translate(288.50,81.00) scale(1,1.04)" font-size="6.75" fill="#000" color="#000" text-anchor="start" stroke="#000" stroke-width="0.2">PRTFDC1</text>
<text transform="translate(335.10,78.50) scale(1,1.04)" font-size="6.75" fill="#000" color="#000" text-anchor="start" stroke="#000" stroke-width="0.2">CR1</text>
<text transform="translate(353.60,94.40) scale(1,1.04)" font-size="6.75" fill="#000" color="#000" text-anchor="start" stroke="#000" stroke-width="0.2">DARS1</text>
<text transform="translate(340.00,113.10) scale(1,1.04)" font-size="6.75" fill="#000" color="#000" text-anchor="start" stroke="#000" stroke-width="0.2">GC</text>
<text transform="translate(266.60,138.70) scale(1,1.04)" font-size="6.75" fill="#000" color="#000" text-anchor="start" stroke="#000" stroke-width="0.2">MITD1</text>
<text transform="translate(294.00,143.60) scale(1,1.04)" font-size="6.75" fill="#000" color="#000" text-anchor="start" stroke="#000" stroke-width="0.2">SERPINB1</text>
<text transform="translate(255.10,152.70) scale(1,1.04)" font-size="6.75" fill="#000" color="#000" text-anchor="start" stroke="#000" stroke-width="0.2">TREM2</text>
<text transform="translate(282.40,152.70) scale(1,1.04)" font-size="6.75" fill="#000" color="#000" text-anchor="start" stroke="#000" stroke-width="0.2">GRN</text>
<text transform="translate(322.20,154.50) scale(1,1.04)" font-size="6.75" fill="#000" color="#000" text-anchor="start" stroke="#000" stroke-width="0.2">SERPINF2</text>
<text transform="translate(297.00,162.70) scale(1,1.04)" font-size="6.75" fill="#000" color="#000" text-anchor="start" stroke="#000" stroke-width="0.2">MANF</text>
<text transform="translate(259.30,167.60) scale(1,1.04)" font-size="6.75" fill="#000" color="#000" text-anchor="start" stroke="#000" stroke-width="0.2">APOC1</text>
<text transform="translate(261.60,80.40) scale(1,1.04)" font-size="6.75" fill="#000" color="#000" text-anchor="start" stroke="#000" stroke-width="0.2">BCAM</text>
<line x1="306.5" y1="145.2" x2="300.3" y2="151.4" stroke="#111" stroke-width="0.9"/>
<text transform="translate(358.10,162.70) scale(1,1.04)" font-size="8.4" fill="#000" color="#000" text-anchor="start" >r = 0.51</text>
<text transform="translate(515.90,63.20) scale(1,1.04)" font-size="6.75" fill="#000" color="#000" text-anchor="start" stroke="#000" stroke-width="0.2">NT5C3A</text>
<text transform="translate(500.90,79.00) scale(1,1.04)" font-size="6.75" fill="#000" color="#000" text-anchor="start" stroke="#000" stroke-width="0.2">PRTFDC1</text>
<text transform="translate(526.10,91.30) scale(1,1.04)" font-size="6.75" fill="#000" color="#000" text-anchor="start" stroke="#000" stroke-width="0.2">CR1</text>
<text transform="translate(544.30,96.10) scale(1,1.04)" font-size="6.75" fill="#000" color="#000" text-anchor="start" stroke="#000" stroke-width="0.2">DARS1</text>
<text transform="translate(480.40,123.80) scale(1,1.04)" font-size="6.75" fill="#000" color="#000" text-anchor="start" stroke="#000" stroke-width="0.2">CPM</text>
<text transform="translate(501.90,134.80) scale(1,1.04)" font-size="6.75" fill="#000" color="#000" text-anchor="start" stroke="#000" stroke-width="0.2">AP1G2</text>
<text transform="translate(464.80,141.00) scale(1,1.04)" font-size="6.75" fill="#000" color="#000" text-anchor="start" stroke="#000" stroke-width="0.2">MITD1</text>
<text transform="translate(491.30,145.90) scale(1,1.04)" font-size="6.75" fill="#000" color="#000" text-anchor="start" stroke="#000" stroke-width="0.2">SERPINB1</text>
<text transform="translate(453.10,155.10) scale(1,1.04)" font-size="6.75" fill="#000" color="#000" text-anchor="start" stroke="#000" stroke-width="0.2">TREM2</text>
<text transform="translate(480.40,155.10) scale(1,1.04)" font-size="6.75" fill="#000" color="#000" text-anchor="start" stroke="#000" stroke-width="0.2">GRN</text>
<text transform="translate(520.60,155.90) scale(1,1.04)" font-size="6.75" fill="#000" color="#000" text-anchor="start" stroke="#000" stroke-width="0.2">SERPINF2</text>
<text transform="translate(494.50,164.40) scale(1,1.04)" font-size="6.75" fill="#000" color="#000" text-anchor="start" stroke="#000" stroke-width="0.2">MANF</text>
<text transform="translate(457.20,168.60) scale(1,1.04)" font-size="6.75" fill="#000" color="#000" text-anchor="start" stroke="#000" stroke-width="0.2">APOC1</text>
<line x1="504.4" y1="147" x2="498.7" y2="153" stroke="#111" stroke-width="0.9"/>
<text transform="translate(556.10,164.80) scale(1,1.04)" font-size="8.4" fill="#000" color="#000" text-anchor="start" >r = 0.63</text>
<line x1="45.55" y1="111.40" x2="183.80" y2="111.40" stroke="#7a7a7a" stroke-width="1.0" stroke-dasharray="2.6 1.92" stroke-dashoffset="0.0"/>
<line x1="114.75" y1="180.25" x2="114.75" y2="42.30" stroke="#7a7a7a" stroke-width="1.0" stroke-dasharray="2.6 1.92" stroke-dashoffset="0.4"/>
<line x1="249.55" y1="109.90" x2="387.80" y2="109.90" stroke="#979797" stroke-width="1.0" stroke-dasharray="2.5 2.0" stroke-dashoffset="-0.6"/>
<line x1="318.75" y1="178.75" x2="318.75" y2="40.80" stroke="#979797" stroke-width="1.0" stroke-dasharray="2.5 2.0" stroke-dashoffset="0.0"/>
<line x1="447.55" y1="111.40" x2="585.80" y2="111.40" stroke="#767676" stroke-width="1.0" stroke-dasharray="2.9 2.39" stroke-dashoffset="0.0"/>
<line x1="516.75" y1="180.25" x2="516.75" y2="42.30" stroke="#767676" stroke-width="1.0" stroke-dasharray="2.9 2.39" stroke-dashoffset="0.0"/>
<text transform="translate(605.30,54.30) scale(1,1.04)" font-size="11.8" fill="#000" color="#000" text-anchor="start" style="font-kerning:normal">PAV Instrument</text>
<rect x="609.90" y="65.80" width="3.60" height="3.60" fill="#000"/>
<text transform="translate(623.50,70.90) scale(1,1.04)" font-size="9.55" fill="#000" color="#000" text-anchor="start" >Both</text>
<circle cx="611.70" cy="80.20" r="1.98" fill="#000"/>
<text transform="translate(623.50,83.60) scale(1,1.04)" font-size="9.55" fill="#000" color="#000" text-anchor="start" >Neither</text>
<polygon points="611.70,90.80 613.49,92.90 611.70,95.00 609.92,92.90" fill="#000"/>
<text transform="translate(623.50,96.00) scale(1,1.04)" font-size="9.55" fill="#000" color="#000" text-anchor="start" >Olink only</text>
<polygon points="611.70,102.41 614.16,106.73 609.24,106.73" fill="#000"/>
<text transform="translate(623.50,108.60) scale(1,1.04)" font-size="9.55" fill="#000" color="#000" text-anchor="start" >Soma only</text>
<rect x="604" y="97" width="4.6" height="0.8" fill="#e8e8e8"/>
<text transform="translate(604.90,144.80) scale(1,1.04)" font-size="11.8" fill="#000" color="#000" text-anchor="start" >Significance</text>
<circle cx="611.60" cy="158.20" r="2.64" fill="#7E4DB2"/>
<text transform="translate(623.50,161.60) scale(1,1.04)" font-size="9.55" fill="#000" color="#000" text-anchor="start" >Both</text>
<circle cx="611.60" cy="170.60" r="2.64" fill="#2F4FB4"/>
<text transform="translate(623.50,173.80) scale(1,1.04)" font-size="9.55" fill="#000" color="#000" text-anchor="start" >Olink only</text>
<circle cx="611.60" cy="183.00" r="2.64" fill="#EC1C24"/>
<text transform="translate(623.50,186.40) scale(1,1.04)" font-size="9.55" fill="#000" color="#000" text-anchor="start" >Soma only</text>
<rect x="20" y="225" width="629" height="2" fill="#000"/>
<rect x="166" y="244" width="483" height="2" fill="#000"/>
<rect x="20" y="303" width="629" height="2" fill="#000"/>
<rect x="20" y="373" width="629" height="2" fill="#000"/>
<rect x="20" y="392" width="629" height="2" fill="#000"/>
<rect x="20" y="410" width="629" height="2" fill="#000"/>
<rect x="20" y="429" width="629" height="2" fill="#000"/>
<rect x="20" y="225" width="2" height="206" fill="#000"/>
<rect x="647" y="225" width="2" height="206" fill="#000"/>
<rect x="166" y="225" width="2" height="206" fill="#000"/>
<rect x="286" y="244" width="2" height="187" fill="#000"/>
<rect x="459" y="244" width="2" height="187" fill="#000"/>
<rect x="223" y="303" width="2" height="128" fill="#000"/>
<rect x="334" y="303" width="2" height="128" fill="#000"/>
<rect x="395.5" y="303" width="2" height="128" fill="#000"/>
<rect x="506" y="303" width="2" height="128" fill="#000"/>
<rect x="568" y="303" width="2" height="128" fill="#000"/>
<g transform="translate(0,0.7)">
<text transform="translate(27.00,265.30) scale(1,1.04)" font-size="10.7" fill="#000" color="#000" text-anchor="start" >Category</text>
<text transform="translate(352.50,239.50) scale(1,1.04)" font-size="10.7" fill="#000" color="#000" text-anchor="start" font-weight="bold">cis-pQTL Instruments Used</text>
<text transform="translate(172.60,257.70) scale(1,1.04)" font-size="10.7" fill="#000" color="#000" text-anchor="start" >All cis-pQTL (1)</text>
<text transform="translate(292.20,257.80) scale(1,1.04)" font-size="10.7" fill="#000" color="#000" text-anchor="start" >No platform-discordant PAV (2)</text>
<text transform="translate(465.20,257.80) scale(1,1.04)" font-size="10.7" fill="#000" color="#000" text-anchor="start" >No platform-discordant or</text>
<text transform="translate(465.50,269.80) scale(1,1.04)" font-size="10.7" fill="#000" color="#000" text-anchor="start" >platform-specific PAV (3)</text>
<text transform="translate(172.60,317.40) scale(1,1.04)" font-size="10.7" fill="#000" color="#000" text-anchor="start" letter-spacing="-1.3">Tested</text>
<text transform="translate(290.90,316.60) scale(1,1.04)" font-size="10.7" fill="#000" color="#000" text-anchor="start" letter-spacing="-1.3">Tested</text>
<text transform="translate(467.00,317.00) scale(1,1.04)" font-size="10.7" fill="#000" color="#000" text-anchor="start" letter-spacing="-1.3">Tested</text>
<text transform="translate(229.60,317.30) scale(1,1.04)" font-size="10.7" fill="#000" color="#000" text-anchor="start" >Significant</text>
<text transform="translate(230.2,329.8) scale(1,1.04)" font-size="10.7">(p<tspan font-size="7.4" dx="0.3" dy="1.7">1</tspan><tspan dx="0.3" dy="-1.7">&lt;0.05),</tspan></text>
<text transform="translate(230.20,343.20) scale(1,1.04)" font-size="10.7" fill="#000" color="#000" text-anchor="start" >(% of</text>
<text transform="translate(230.20,355.10) scale(1,1.04)" font-size="10.7" fill="#000" color="#000" text-anchor="start" >tested)</text>
<text transform="translate(340.40,317.20) scale(1,1.04)" font-size="10.7" fill="#000" color="#000" text-anchor="start" >Significant</text>
<text transform="translate(343.8,330.3) scale(1,1.04)" font-size="10.7">(p<tspan font-size="7.4" dx="0.3" dy="1.7">2</tspan><tspan dx="0.3" dy="-1.7">&lt;0.05),</tspan></text>
<text transform="translate(346.60,342.90) scale(1,1.04)" font-size="10.7" fill="#000" color="#000" text-anchor="start" >(% of</text>
<text transform="translate(347.20,354.80) scale(1,1.04)" font-size="10.7" fill="#000" color="#000" text-anchor="start" >tested)</text>
<text transform="translate(401.90,316.80) scale(1,1.04)" font-size="10.7" fill="#000" color="#000" text-anchor="start" >Newly</text>
<text transform="translate(402.10,329.30) scale(1,1.04)" font-size="10.7" fill="#000" color="#000" text-anchor="start" >Significant</text>
<text transform="translate(402.4,343.3) scale(1,1.04)" font-size="10.7">(p<tspan font-size="7.4" dx="0.3" dy="1.7">1</tspan><tspan dx="0.3" dy="-1.7">&gt;0.05,</tspan></text>
<text transform="translate(404.9,358.6) scale(1,1.04)" font-size="10.7">p<tspan font-size="7.4" dx="0.3" dy="1.7">2</tspan><tspan dx="0.3" dy="-1.7">&lt;0.05)</tspan></text>
<text transform="translate(510.10,318.70) scale(1,1.04)" font-size="10.7" fill="#000" color="#000" text-anchor="start" >Significant</text>
<text transform="translate(513.8,332.0) scale(1,1.04)" font-size="10.7">(p<tspan font-size="7.4" dx="0.3" dy="1.7">3</tspan><tspan dx="0.3" dy="-1.7">&lt;0.05),</tspan></text>
<text transform="translate(522.30,346.40) scale(1,1.04)" font-size="10.7" fill="#000" color="#000" text-anchor="start" >(% of</text>
<text transform="translate(522.80,358.30) scale(1,1.04)" font-size="10.7" fill="#000" color="#000" text-anchor="start" >tested)</text>
<text transform="translate(574.10,316.70) scale(1,1.04)" font-size="10.7" fill="#000" color="#000" text-anchor="start" >Newly</text>
<text transform="translate(574.30,328.30) scale(1,1.04)" font-size="10.7" fill="#000" color="#000" text-anchor="start" >Significant</text>
<text transform="translate(578.3,344.5) scale(1,1.04)" font-size="10.7">(p<tspan font-size="7.4" dx="0.3" dy="1.7">1</tspan><tspan dx="0.3" dy="-1.7">&gt;0.05,</tspan></text>
<text transform="translate(581.6,358.7) scale(1,1.04)" font-size="10.7">p<tspan font-size="7.4" dx="0.3" dy="1.7">2</tspan><tspan dx="0.3" dy="-1.7">&gt;0.05,</tspan></text>
<text transform="translate(581.6,369.2) scale(1,1.04)" font-size="10.7">p<tspan font-size="7.4" dx="0.3" dy="1.7">3</tspan><tspan dx="0.3" dy="-1.7">&lt;0.05)</tspan></text>
<text transform="translate(513.60,405.40) scale(1,1.04)" font-size="10.7" fill="#000" color="#000" text-anchor="start" letter-spacing="-0.75">116</text>
<text transform="translate(530.40,405.40) scale(1,1.04)" font-size="10.7" fill="#000" color="#000" text-anchor="start" letter-spacing="-0.55">(13%)</text>
<text transform="translate(26.80,387.20) scale(1,1.04)" font-size="10.7" fill="#000" color="#000" text-anchor="start" >SomaScan MR</text>
<text transform="translate(172.20,387.20) scale(1,1.04)" font-size="10.7" fill="#000" color="#000" text-anchor="start" >807</text>
<text transform="translate(229.40,387.20) scale(1,1.04)" font-size="10.7" fill="#000" color="#000" text-anchor="start" >77 (10%)</text>
<text transform="translate(292.50,387.20) scale(1,1.04)" font-size="10.7" fill="#000" color="#000" text-anchor="start" >798</text>
<text transform="translate(340.90,387.20) scale(1,1.04)" font-size="10.7" fill="#000" color="#000" text-anchor="start" >98 (11%)</text>
<text transform="translate(402.40,387.20) scale(1,1.04)" font-size="10.7" fill="#000" color="#000" text-anchor="start" >0</text>
<text transform="translate(465.00,387.20) scale(1,1.04)" font-size="10.7" fill="#000" color="#000" text-anchor="start" >738</text>
<text transform="translate(512.60,387.20) scale(1,1.04)" font-size="10.7" fill="#000" color="#000" text-anchor="start" >91 (12%)</text>
<text transform="translate(575.40,387.20) scale(1,1.04)" font-size="10.7" fill="#000" color="#000" text-anchor="start" >5</text>
<text transform="translate(26.80,405.40) scale(1,1.04)" font-size="10.7" fill="#000" color="#000" text-anchor="start" >Olink MR</text>
<text transform="translate(172.20,405.40) scale(1,1.04)" font-size="10.7" fill="#000" color="#000" text-anchor="start" >974</text>
<text transform="translate(229.40,405.40) scale(1,1.04)" font-size="10.7" fill="#000" color="#000" text-anchor="start" >84 (9%)</text>
<text transform="translate(292.50,405.40) scale(1,1.04)" font-size="10.7" fill="#000" color="#000" text-anchor="start" >966</text>
<text transform="translate(340.90,405.40) scale(1,1.04)" font-size="10.7" fill="#000" color="#000" text-anchor="start" >124 (13%)</text>
<text transform="translate(402.40,405.40) scale(1,1.04)" font-size="10.7" fill="#000" color="#000" text-anchor="start" >0</text>
<text transform="translate(465.00,405.40) scale(1,1.04)" font-size="10.7" fill="#000" color="#000" text-anchor="start" >882</text>
<text transform="translate(512.60,405.40) scale(1,1.04)" font-size="10.7" fill="#000" color="#000" text-anchor="start" ></text>
<text transform="translate(575.40,405.40) scale(1,1.04)" font-size="10.7" fill="#000" color="#000" text-anchor="start" >5</text>
<text transform="translate(26.80,424.20) scale(1,1.04)" font-size="10.7" fill="#000" color="#000" text-anchor="start" >SomaScan MR + Olink MR</text>
<text transform="translate(172.20,424.20) scale(1,1.04)" font-size="10.7" fill="#000" color="#000" text-anchor="start" >601</text>
<text transform="translate(229.40,424.20) scale(1,1.04)" font-size="10.7" fill="#000" color="#000" text-anchor="start" >50 (8%)</text>
<text transform="translate(292.50,424.20) scale(1,1.04)" font-size="10.7" fill="#000" color="#000" text-anchor="start" >590</text>
<text transform="translate(340.90,424.20) scale(1,1.04)" font-size="10.7" fill="#000" color="#000" text-anchor="start" >47 (8%)</text>
<text transform="translate(402.40,424.20) scale(1,1.04)" font-size="10.7" fill="#000" color="#000" text-anchor="start" >0</text>
<text transform="translate(465.00,424.20) scale(1,1.04)" font-size="10.7" fill="#000" color="#000" text-anchor="start" >552</text>
<text transform="translate(512.60,424.20) scale(1,1.04)" font-size="10.7" fill="#000" color="#000" text-anchor="start" >44 (8%)</text>
<text transform="translate(575.40,424.20) scale(1,1.04)" font-size="10.7" fill="#000" color="#000" text-anchor="start" >1</text>
</g>
</svg></body></html>
